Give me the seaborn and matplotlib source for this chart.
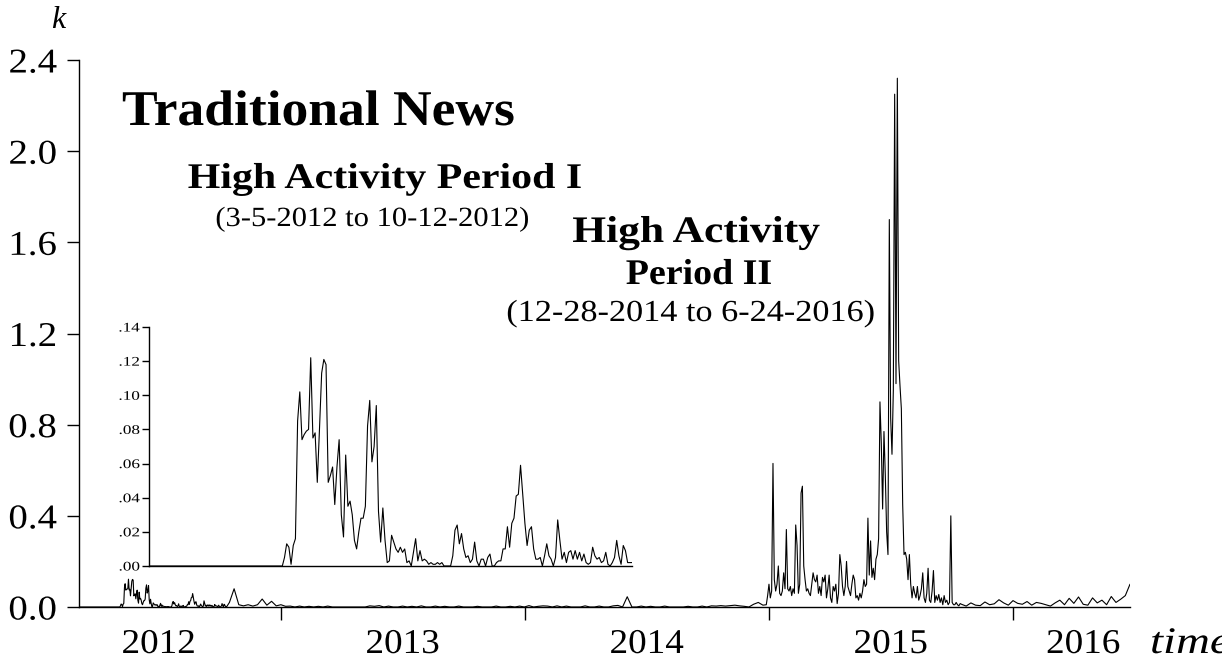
import numpy as np
import pandas as pd
import matplotlib
matplotlib.use("Agg")
import matplotlib.pyplot as plt
from matplotlib.ticker import FuncFormatter
from matplotlib.transforms import Affine2D, blended_transform_factory
from matplotlib.patheffects import AbstractPathEffect
import seaborn as sns

# ---------------------------------------------------------------------------
# Data: intensity k of traditional news coverage
# ---------------------------------------------------------------------------

# High Activity Period I, daily, 2012-03-05 .. 2012-10-12
period1_start = "2012-03-05"
period1_end = "2012-10-12"
period1_k = [
    0.0, 0.0, 0.0, 0.0, 0.0, 0.0, 0.0, 0.0, 0.0, 0.0,
    0.0, 0.0, 0.0, 0.0, 0.0, 0.0, 0.0, 0.0, 0.0, 0.0,
    0.0, 0.0, 0.0, 0.0, 0.0, 0.0, 0.0, 0.0, 0.0, 0.0,
    0.0, 0.0, 0.0, 0.0, 0.0, 0.0, 0.0, 0.0, 0.0, 0.0,
    0.0, 0.0, 0.0, 0.0, 0.0, 0.0, 0.0, 0.0, 0.0, 0.0,
    0.0, 0.0, 0.0, 0.0, 0.0, 0.0, 0.0, 0.0, 0.0, 0.0,
    0.0, 0.0,
    0.005, 0.013, 0.011, 0.001, 0.012, 0.016, 0.085, 0.102, 0.074, 0.077,
    0.079, 0.080, 0.122, 0.075, 0.078, 0.049, 0.080, 0.113, 0.121, 0.118,
    0.049, 0.053, 0.058, 0.036, 0.058, 0.074, 0.030, 0.017, 0.065, 0.035,
    0.038, 0.030, 0.015, 0.010, 0.020, 0.028, 0.028, 0.035, 0.082, 0.097,
    0.061, 0.070, 0.094, 0.032, 0.014, 0.034, 0.015, 0.002, 0.003, 0.018,
    0.014, 0.010, 0.008, 0.011, 0.008, 0.010, 0.002, 0.003, 0.000, 0.008,
    0.016, 0.003, 0.009, 0.003, 0.004, 0.003, 0.001, 0.002, 0.001, 0.001,
    0.002, 0.001, 0.002, 0.000, 0.000, 0.000, 0.000, 0.006, 0.021, 0.024,
    0.013, 0.019, 0.010, 0.005, 0.006, 0.002, 0.004, 0.014, 0.003, 0.000,
    0.004, 0.004, 0.000, 0.005, 0.007, 0.000, 0.000, 0.002, 0.003, 0.003,
    0.010, 0.010, 0.023, 0.011, 0.025, 0.028, 0.041, 0.042, 0.059, 0.042,
    0.025, 0.012, 0.021, 0.023, 0.010, 0.004, 0.004, 0.005, 0.000, 0.006,
    0.013, 0.006, 0.004, 0.000, 0.005, 0.027, 0.015, 0.004, 0.008, 0.002,
    0.008, 0.009, 0.004, 0.009, 0.004, 0.008, 0.003, 0.007, 0.002, 0.001,
    0.002, 0.011, 0.006, 0.004, 0.005, 0.002, 0.003, 0.008, 0.001, 0.000,
    0.002, 0.005, 0.015, 0.006, 0.001, 0.012, 0.009, 0.002, 0.002, 0.002,
]

# Quiet stretch, weekly, from 2012-10-16
quiet_start = "2012-10-16"
quiet_k = [
    0.020, 0.080, 0.010, 0.005, 0.010, 0.004, 0.010, 0.035, 0.008, 0.025,
    0.005, 0.010, 0.003, 0.004, 0.000, 0.004, 0.000, 0.003, 0.000, 0.003,
    0.000, 0.004, 0.000, 0.000, 0.000, 0.000, 0.000, 0.000, 0.000, 0.000,
    0.005, 0.003, 0.006, 0.000, 0.004, 0.000, 0.000, 0.004, 0.000, 0.003,
    0.000, 0.005, 0.000, 0.000, 0.004, 0.000, 0.003, 0.000, 0.000, 0.004,
    0.000, 0.000, 0.000, 0.003, 0.000, 0.000, 0.000, 0.004, 0.000, 0.000,
    0.003, 0.000, 0.004, 0.000, 0.006, 0.000, 0.003, 0.005, 0.004, 0.000,
    0.005, 0.000, 0.004, 0.000, 0.000, 0.000, 0.005, 0.000, 0.000, 0.004,
    0.000, 0.000, 0.005, 0.007, 0.000, 0.045, 0.000, 0.000, 0.004, 0.000,
    0.003, 0.000, 0.000, 0.004, 0.000, 0.000, 0.000, 0.000, 0.003, 0.000,
    0.000, 0.004, 0.000, 0.005, 0.004, 0.006, 0.004, 0.006, 0.008, 0.005,
    0.003, 0.000, 0.012, 0.020, 0.008,
]

# High Activity Period II (main burst), every second day from 2014-12-28
burst_start = "2014-12-28"
burst_k = [
    0.01, 0.05, 0.10, 0.04, 0.07, 0.63, 0.12, 0.07, 0.10, 0.18,
    0.06, 0.05, 0.07, 0.15, 0.08, 0.34, 0.08, 0.07, 0.09, 0.05,
    0.08, 0.06, 0.36, 0.27, 0.06, 0.10, 0.50, 0.53, 0.18, 0.12,
    0.07, 0.08, 0.06, 0.05, 0.10, 0.15, 0.12, 0.11, 0.14, 0.06,
    0.09, 0.05, 0.13, 0.11, 0.14, 0.04, 0.08, 0.14, 0.04, 0.02,
    0.09, 0.07, 0.10, 0.015, 0.06, 0.23, 0.18, 0.09, 0.05, 0.09,
    0.20, 0.09, 0.07, 0.05, 0.10, 0.14, 0.12, 0.04, 0.05, 0.03,
    0.06, 0.04, 0.07, 0.12, 0.09, 0.10, 0.39, 0.14, 0.29, 0.13,
    0.17, 0.12, 0.21, 0.23, 0.30, 0.90, 0.72, 0.43, 0.77, 0.58,
    0.33, 0.23, 1.70, 0.83, 0.67, 0.95, 2.25, 0.98, 2.32, 1.08,
    0.97, 0.87, 0.45, 0.23, 0.24, 0.21, 0.12, 0.23, 0.10, 0.04,
    0.09, 0.06, 0.04, 0.09, 0.03, 0.05, 0.08, 0.15, 0.04, 0.02,
    0.06, 0.17, 0.03, 0.02, 0.07, 0.16, 0.02, 0.05, 0.03, 0.055,
    0.02, 0.04, 0.01, 0.05, 0.02, 0.03, 0.01, 0.02, 0.40, 0.02,
    0.01, 0.01, 0.02, 0.01, 0.005, 0.015,
]

# Tail of Period II, weekly from 2015-10-16 to 2016-06-24
tail_start = "2015-10-16"
tail_k = [
    0.012, 0.004, 0.018, 0.008, 0.006, 0.022, 0.010, 0.014, 0.032, 0.018,
    0.008, 0.028, 0.016, 0.012, 0.024, 0.008, 0.020, 0.016, 0.010, 0.004,
    0.018, 0.030, 0.010, 0.038, 0.016, 0.044, 0.012, 0.008, 0.040, 0.018,
    0.030, 0.010, 0.046, 0.020, 0.034, 0.050, 0.100,
]

main_end = "2016-06-24"
year_ticks = ["2013-01-01", "2014-01-01", "2015-01-01", "2016-01-01"]
year_labels = ["2012", "2013", "2014", "2015", "2016"]
year_label_dates = ["2012-07-02", "2013-07-02", "2014-07-02", "2015-07-02", "2016-04-15"]
main_yticks = [0.0, 0.4, 0.8, 1.2, 1.6, 2.0, 2.4]
inset_yticks = [0.00, 0.02, 0.04, 0.06, 0.08, 0.10, 0.12, 0.14]

# ---------------------------------------------------------------------------
# Assemble time series
# ---------------------------------------------------------------------------
seg1 = pd.DataFrame({"date": pd.date_range(period1_start, periods=len(period1_k), freq="D"),
                     "k": period1_k})
seg2 = pd.DataFrame({"date": pd.date_range(quiet_start, periods=len(quiet_k), freq="7D"),
                     "k": quiet_k})
seg3 = pd.DataFrame({"date": pd.date_range(burst_start, periods=len(burst_k), freq="2D"),
                     "k": burst_k})
seg4 = pd.DataFrame({"date": pd.date_range(tail_start, periods=len(tail_k), freq="7D"),
                     "k": tail_k})
main_df = pd.concat([seg1, seg2, seg3, seg4], ignore_index=True)


class HStretch(AbstractPathEffect):
    """Widen glyphs horizontally about the left, centre or right of the text."""

    def __init__(self, sx, anchor="left"):
        super().__init__()
        self.sx = sx
        self.anchor = anchor

    def draw_path(self, renderer, gc, tpath, affine, rgbFace=None):
        ext = tpath.get_extents()
        if self.anchor == "left":
            x0 = 0.0
        elif self.anchor == "right":
            x0 = ext.x1
        else:
            x0 = 0.5 * (ext.x0 + ext.x1)
        stretch = Affine2D().translate(-x0, 0).scale(self.sx, 1.0).translate(x0, 0)
        renderer.draw_path(gc, tpath, stretch + affine, rgbFace)


# ---------------------------------------------------------------------------
# Figure
# ---------------------------------------------------------------------------
sns.set_theme(style="ticks")
plt.rcParams["font.family"] = ["Liberation Serif", "DejaVu Serif"]
plt.rcParams["axes.edgecolor"] = "black"
plt.rcParams["xtick.color"] = "black"
plt.rcParams["ytick.color"] = "black"

W, H = 1222, 659
fig = plt.figure(figsize=(W / 100, H / 100), dpi=100)
fig.patch.set_facecolor("white")


def fx(px):
    return px / W


def fy(py):
    return 1.0 - py / H


# main axes
ax = fig.add_axes([fx(79), fy(607), fx(1130) - fx(79), fy(60) - fy(607)])
ax.set_facecolor("white")
sns.lineplot(data=main_df, x="date", y="k", ax=ax, color="black",
             linewidth=0.8, estimator=None)
ax.set_xlim(pd.Timestamp(period1_start), pd.Timestamp(main_end))
ax.set_ylim(0, 2.4)
ax.set_xlabel("")
ax.set_ylabel("")
ax.set_xticks([pd.Timestamp(d) for d in year_ticks])
ax.set_xticklabels([])
ax.set_yticks(main_yticks)
ax.yaxis.set_major_formatter(FuncFormatter(lambda v, p: f"{v:.1f}"))
ax.tick_params(axis="both", direction="out", length=9, width=1.0, color="black")
ax.tick_params(axis="y", labelsize=25, pad=7)
for s in ("top", "right"):
    ax.spines[s].set_visible(False)
for s in ("left", "bottom"):
    ax.spines[s].set_linewidth(1.0)
    ax.spines[s].set_color("black")
for lbl in ax.get_yticklabels():
    lbl.set_path_effects([HStretch(1.12, "right")])

# year labels centred in each year's span
yr_tr = blended_transform_factory(ax.transData, fig.transFigure)
for lab, d in zip(year_labels, year_label_dates):
    ax.text(pd.Timestamp(d), fy(653), lab, transform=yr_tr, ha="center",
            va="baseline", fontsize=25, color="black",
            path_effects=[HStretch(1.07, "center")])

fig.text(fx(1150), fy(653), "time", style="italic", fontsize=27,
         ha="left", va="baseline", color="black",
         path_effects=[HStretch(1.25, "left")])
fig.text(fx(58), fy(20), "k", style="italic", fontsize=23,
         ha="center", va="center", color="black")

# inset: zoom on High Activity Period I
axi = fig.add_axes([fx(149), fy(566), fx(632) - fx(149), fy(327) - fy(566)])
axi.patch.set_alpha(0)
sns.lineplot(data=seg1, x="date", y="k", ax=axi, color="black",
             linewidth=0.8, estimator=None)
axi.set_xlim(pd.Timestamp(period1_start), pd.Timestamp(period1_end))
axi.set_ylim(0, 0.14)
axi.set_xlabel("")
axi.set_ylabel("")
axi.set_xticks([])
axi.set_yticks(inset_yticks)
axi.yaxis.set_major_formatter(FuncFormatter(lambda v, p: f"{v:.2f}".lstrip("0")))
axi.tick_params(axis="y", direction="out", length=5, width=1.0,
                labelsize=9.5, pad=1.5, color="black")
for s in ("top", "right"):
    axi.spines[s].set_visible(False)
for s in ("left", "bottom"):
    axi.spines[s].set_linewidth(1.0)
    axi.spines[s].set_color("black")
for lbl in axi.get_yticklabels():
    lbl.set_path_effects([HStretch(1.3, "right")])

# annotations
fig.text(fx(122), fy(125), "Traditional News", fontsize=36, fontweight="bold",
         ha="left", va="baseline", color="black",
         path_effects=[HStretch(1.07, "left")])
fig.text(fx(385), fy(188), "High Activity Period I", fontsize=26, fontweight="bold",
         ha="center", va="baseline", color="black",
         path_effects=[HStretch(1.16, "center")])
fig.text(fx(372), fy(226), "(3-5-2012 to 10-12-2012)", fontsize=20,
         ha="center", va="baseline", color="black",
         path_effects=[HStretch(1.10, "center")])
fig.text(fx(696), fy(242), "High Activity", fontsize=27, fontweight="bold",
         ha="center", va="baseline", color="black",
         path_effects=[HStretch(1.16, "center")])
fig.text(fx(699), fy(284), "Period II", fontsize=26, fontweight="bold",
         ha="center", va="baseline", color="black",
         path_effects=[HStretch(1.05, "center")])
fig.text(fx(690), fy(321), "(12-28-2014 to 6-24-2016)", fontsize=22,
         ha="center", va="baseline", color="black",
         path_effects=[HStretch(1.12, "center")])

fig.savefig("out.png", dpi=100, facecolor="white")
